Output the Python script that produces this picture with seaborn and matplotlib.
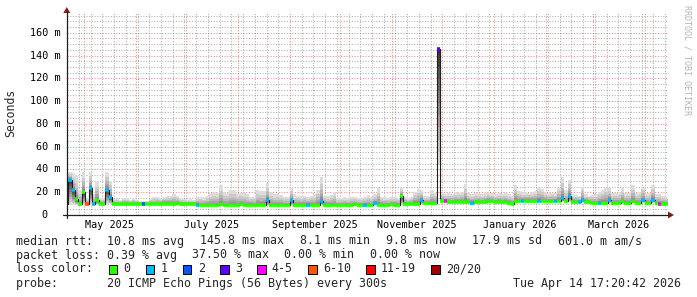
import numpy as np
import pandas as pd
import matplotlib
matplotlib.use("Agg")
import matplotlib.pyplot as plt
import matplotlib.dates as mdates
import matplotlib.transforms as mtransforms
import seaborn as sns
from matplotlib.collections import LineCollection
from matplotlib.lines import Line2D
from matplotlib.patches import Rectangle, Polygon

# ---------------- data (2-day bins) ----------------
series_start = "2025-04-19 17:20"
graph_end = "2026-04-14 17:20"

median_ms = [
    9.6, 31, 22, 14, 9.3, 20, 9.8, 24, 10, 13,
    9.7, 9.7, 22, 16, 9.8, 9.7, 9.7, 9.8, 9.7, 9.7,
    9.8, 9.7, 9.6, 9.6, 9.7, 9.8, 9.8, 9.7, 9.8, 9.9,
    9.8, 9.7, 9.8, 10.2, 9.8, 9.7, 9.6, 9.5, 9.4, 8.8,
    8.5, 8.5, 8.4, 8.5, 8.5, 8.6, 9.5, 8.6, 8.5, 8.6,
    8.5, 8.6, 9.3, 8.5, 8.5, 9.0, 8.6, 8.5, 8.6, 9.2,
    13, 8.6, 8.5, 8.6, 8.5, 8.5, 8.6, 13, 8.7, 8.6,
    8.5, 8.6, 8.7, 8.6, 8.6, 9.0, 12, 8.7, 8.6, 8.6,
    8.7, 8.6, 8.7, 8.6, 8.7, 8.6, 9.3, 8.7, 8.6, 8.6,
    8.7, 8.6, 10.2, 8.8, 8.7, 8.8, 8.9, 9.4, 9.0, 9.0,
    17, 9.8, 9.9, 9.8, 10.0, 9.9, 13, 10.1, 10.2, 10.1,
    10.3, 145.8, 12.5, 12.0, 11.2, 11.0, 11.0, 11.2, 11.5, 11.8,
    11.3, 10.5, 11.0, 11.2, 11.3, 11.5, 12.3, 12.0, 11.5, 11.3,
    11.2, 11.5, 10.5, 9.5, 12.2, 12.0, 12.0, 12.2, 12.3, 12.0,
    12.1, 12.5, 12.2, 12.0, 12.0, 12.1, 12.3, 12.5, 15, 12.0,
    17, 11.7, 11.7, 11.5, 13, 11.7, 11.6, 10.3, 10.2, 10.8,
    10.8, 10.8, 13.5, 10.6, 10.5, 10.5, 12, 10.5, 10.6, 12.5,
    10.8, 10.5, 13, 10.3, 10.2, 13.5, 10.2, 10.0, 9.6, 9.6,
]

smoke_max_ms = [
    12, 38, 37, 34, 22, 38, 14, 38, 18, 29,
    15, 15, 38, 30, 14, 14, 13.5, 14, 15, 13,
    14, 13, 12, 12, 12.5, 14, 15.5, 16, 15, 16,
    17, 16.5, 18, 17, 14.5, 14, 13.5, 14, 13.5, 16,
    16, 15.5, 17, 19, 20, 19, 26, 20, 19.5, 22,
    22, 19, 19, 19, 18.5, 16, 16, 22, 21, 21,
    28, 20, 18, 18.5, 17.5, 16, 16, 24, 18, 17,
    16.5, 17, 16, 17, 18, 22, 33, 17, 16.5, 17.5,
    20, 15, 15, 15.5, 15, 16, 15.5, 15, 15, 16,
    17.5, 16, 18, 24, 16, 15.5, 15, 16, 15.5, 15,
    24, 16, 15, 16, 20, 23, 22, 17, 16.5, 22,
    19, 146, 19, 18, 19, 18.5, 20, 19.5, 20, 27,
    19, 18, 19, 19, 18, 19, 19.5, 19, 18, 19,
    18.5, 19, 18, 17, 26, 21, 20, 20, 19.5, 20,
    21, 24, 23, 20, 19, 19.5, 19, 24, 33, 22,
    31, 18, 17.5, 17, 25, 18, 17, 17.5, 18, 20,
    22, 24, 24, 19, 19, 20, 24, 19, 19, 26,
    19, 20, 25, 19, 19, 26, 18, 18, 17, 16,
]

smoke_min_ms = [
    8.8, 9.0, 9.0, 9.0, 8.5, 9.0, 9.0, 9.0, 9.2, 9.3,
    8.9, 8.9, 9.5, 9.5, 9.0, 8.9, 8.9, 9.0, 8.9, 8.9,
    9.0, 8.9, 8.8, 8.8, 8.9, 9.0, 9.0, 8.9, 9.0, 9.1,
    9.0, 8.9, 9.0, 9.3, 9.0, 8.9, 8.8, 8.7, 8.6, 8.0,
    7.7, 7.7, 7.6, 7.7, 7.7, 7.8, 8.2, 7.8, 7.7, 7.8,
    7.7, 7.8, 8.0, 7.7, 7.7, 8.0, 7.8, 7.7, 7.8, 8.0,
    8.2, 7.8, 7.7, 7.8, 7.7, 7.7, 7.8, 8.3, 7.9, 7.8,
    7.7, 7.8, 7.9, 7.8, 7.8, 8.1, 8.5, 7.9, 7.8, 7.8,
    7.9, 7.8, 7.9, 7.8, 7.9, 7.8, 8.2, 7.9, 7.8, 7.8,
    7.9, 7.8, 8.6, 8.0, 7.9, 8.0, 8.1, 8.4, 8.2, 8.2,
    8.5, 9.0, 9.1, 9.0, 9.2, 9.1, 9.5, 9.3, 9.4, 9.3,
    9.5, 45, 11.0, 11.0, 10.4, 10.2, 10.2, 10.4, 10.7, 11.0,
    10.5, 9.7, 10.2, 10.4, 10.5, 10.7, 11.3, 11.2, 10.7, 10.5,
    10.4, 10.7, 9.7, 8.7, 11.0, 11.2, 11.2, 11.4, 11.5, 11.2,
    11.3, 11.5, 11.4, 11.2, 11.2, 11.3, 11.5, 11.6, 11.5, 11.2,
    11.5, 10.9, 10.9, 10.7, 11.5, 10.9, 10.8, 9.5, 9.4, 10.0,
    10.0, 10.0, 10.5, 9.8, 9.7, 9.7, 10.3, 9.7, 9.8, 10.5,
    10.0, 9.7, 10.5, 9.5, 9.4, 10.5, 9.4, 9.2, 8.8, 8.8,
]

lost_pings = [
    0, 1, 1, 0, 0, 0, 7, 1, 1, 0,
    0, 0, 1, 1, 0, 0, 0, 0, 0, 0,
    0, 0, 0, 2, 0, 0, 0, 0, 0, 0,
    0, 0, 0, 0, 0, 0, 0, 0, 0, 1,
    0, 0, 0, 0, 0, 0, 0, 0, 0, 0,
    0, 0, 0, 0, 0, 0, 0, 0, 0, 0,
    1, 0, 0, 0, 0, 0, 0, 1, 0, 0,
    0, 0, 1, 0, 0, 0, 1, 0, 0, 0,
    0, 0, 0, 0, 0, 0, 0, 0, 0, 1,
    0, 0, 1, 0, 0, 0, 0, 0, 0, 0,
    0, 0, 0, 0, 0, 0, 1, 0, 0, 0,
    0, 3, 0, 4, 0, 0, 0, 0, 0, 0,
    0, 1, 0, 0, 0, 0, 0, 0, 0, 0,
    0, 0, 0, 0, 0, 0, 1, 0, 0, 0,
    0, 1, 0, 0, 0, 0, 1, 0, 1, 0,
    1, 0, 0, 1, 1, 0, 0, 0, 0, 1,
    0, 0, 1, 0, 0, 0, 0, 0, 0, 0,
    0, 0, 1, 0, 0, 1, 0, 4, 0, 0,
]

loss_labels = ["0", "1", "2", "3", "4-5", "6-10", "11-19", "20/20"]
loss_upper = [0, 1, 2, 3, 5, 10, 19, 20]
loss_colors = ["#26ff00", "#00b8ff", "#0059ff", "#5e00ff",
               "#ff00ff", "#ff5500", "#ff0000", "#a10000"]

y_ticks = [0, 20, 40, 60, 80, 100, 120, 140, 160]
y_tick_labels = ["0", "20 m", "40 m", "60 m", "80 m", "100 m", "120 m", "140 m", "160 m"]
x_label_months = ["2025-05-01", "2025-07-01", "2025-09-01", "2025-11-01", "2026-01-01", "2026-03-01"]

legend_row_rtt = ["median rtt:  10.8 ms avg", "145.8 ms max", "8.1 ms min",
                  "9.8 ms now", "17.9 ms sd", "601.0 m am/s"]
legend_row_loss = ["packet loss: 0.39 % avg", "37.50 % max", "0.00 % min", "0.00 % now"]
legend_row_color = "loss color:"
legend_row_probe = "probe:       20 ICMP Echo Pings (56 Bytes) every 300s"
timestamp_text = "Tue Apr 14 17:20:42 2026"

# ---------------- figure ----------------
sns.set_theme(style="white")
plt.rcParams["font.family"] = ["DejaVu Sans Mono", "DejaVu Sans"]

W, H = 697, 297
fig = plt.figure(figsize=(W / 100, H / 100), dpi=100)
fig.patch.set_facecolor("white")
L, R, B, T = 66.5, 668.0, 215.0, 12.3
ax = fig.add_axes([L / W, 1 - B / H, (R - L) / W, (B - T) / H])
ax.set_facecolor("white")

def fx(px):
    return px / W

def fy(py):
    return 1 - py / H

med = np.array(median_ms, float)
hi = np.array(smoke_max_ms, float)
lo = np.array(smoke_min_ms, float)
loss = np.array(lost_pings)
n = len(med)
edges = pd.date_range(series_start, periods=n + 1, freq="2D")
xe = mdates.date2num(edges.to_pydatetime())

def ext(a):
    return np.append(a, a[-1])

# grid
mgrid = (0.87, 0.31, 0.31, 0.65)
ngrid = (0.56, 0.56, 0.56, 0.7)
x0 = pd.Timestamp(series_start) + pd.Timedelta(days=(L - 65.1) / 1.6746)
x1 = pd.Timestamp(graph_end)
ax.set_xlim(x0, x1)
ymax = (B - T) / 1.139
ax.set_ylim(0, ymax)
dot = (0, (1, 1.6))
weeks = pd.date_range(x0.normalize(), x1, freq="W-MON")
months = pd.date_range(x0.normalize(), x1, freq="MS")
for t in weeks:
    if t not in months:
        ax.axvline(t, color=ngrid, lw=0.75, ls=dot, zorder=1)
for v in np.arange(5, ymax, 5):
    if v % 20:
        ax.axhline(v, color=ngrid, lw=0.75, ls=dot, zorder=1)
for t in months:
    ax.axvline(t, color=mgrid, lw=0.75, ls=dot, zorder=1)
for v in y_ticks[1:]:
    ax.axhline(v, color=mgrid, lw=0.75, ls=dot, zorder=1)

# smoke: 20 sorted pseudo pings per bin, nested gray bands
u = (np.arange(20) - 9.5) / 9.5
pings = np.where(u[:, None] > 0,
                 med[None, :] + (hi - med)[None, :] * (u[:, None] ** 3),
                 med[None, :] + (med - lo)[None, :] * u[:, None])
for j in range(10):
    g = int(190 / 10 * (10 - (j + 1)) + 50) / 255.0
    ax.fill_between(xe, ext(pings[j]), ext(pings[19 - j]), step="post",
                    color=(g, g, g), lw=0, zorder=2)

# median line (black step)
df = pd.DataFrame({"t": edges, "median": ext(med)})
sns.lineplot(data=df, x="t", y="median", drawstyle="steps-post", color="#202020",
             lw=0.8, ax=ax, zorder=4, estimator=None, sort=False)

# loss-coloured median band
def loss_color(k):
    for up, c in zip(loss_upper, loss_colors):
        if k <= up:
            return c
    return loss_colors[-1]

segs = [[(xe[i], med[i]), (xe[i + 1], med[i])] for i in range(n)]
lc = LineCollection(segs, colors=[loss_color(k) for k in loss], linewidths=2.6,
                    capstyle="butt", zorder=5)
ax.add_collection(lc)

ax.grid(False)
ax.tick_params(which="both", length=0, labelbottom=False, labelleft=False)
ax.set_xlabel("")
ax.set_ylabel("")
for s in ax.spines.values():
    s.set_visible(False)

# axis lines + arrows
axis_col = (0.12, 0.12, 0.12)
arrow_col = (0.5, 0.12, 0.12)
fig.add_artist(Line2D([fx(63), fx(669)], [fy(215), fy(215)], color=axis_col, lw=0.9))
fig.add_artist(Line2D([fx(66.8), fx(66.8)], [fy(218), fy(12)], color=axis_col, lw=0.9))
fig.add_artist(Polygon([(fx(668), fy(211.5)), (fx(668), fy(218.5)), (fx(674), fy(215))],
                       closed=True, color=arrow_col, lw=0))
fig.add_artist(Polygon([(fx(63.3), fy(13)), (fx(70.3), fy(13)), (fx(66.8), fy(7))],
                       closed=True, color=arrow_col, lw=0))

# y tick labels
ytr = mtransforms.blended_transform_factory(fig.transFigure, ax.transData)
for v, lab in zip(y_ticks, y_tick_labels):
    xr = 47.3 if lab == "0" else 60.3
    ax.text(fx(xr), v, lab, transform=ytr, ha="right", va="center", size=7.3,
            color="black", clip_on=False)

# x labels (centred half a month after the month start)
xtr = mtransforms.blended_transform_factory(ax.transData, fig.transFigure)
for m in x_label_months:
    t = pd.Timestamp(m)
    lab = t.strftime("%B %Y")
    ax.text(mdates.date2num(t + pd.Timedelta(days=15)), fy(225), lab, transform=xtr,
            ha="center", va="center", size=7.3, color="black", clip_on=False)

fig.text(fx(11), fy(113), "Seconds", rotation=90, ha="center", va="center", size=8.3)
fig.text(fx(686.5), fy(5), "RRDTOOL / TOBI OETIKER", rotation=270, ha="center",
         va="top", size=6.0, color="#b4b4b4")

# legend (items placed like rrdtool: fixed char width, fixed gap between items)
FS = 8.4
CW = 6.98
rows_y = [241, 255, 269, 283]

def place_row(items, yy, gap):
    xcur = 16.0
    for it in items:
        fig.text(fx(xcur), fy(yy), it, ha="left", va="center", size=FS)
        xcur += len(it) * CW + gap

place_row(legend_row_rtt, rows_y[0], 16.3)
place_row(legend_row_loss, rows_y[1], 15.5)
fig.text(fx(16), fy(rows_y[2]), legend_row_color, ha="left", va="center", size=FS)
fig.text(fx(16), fy(rows_y[3]), legend_row_probe, ha="left", va="center", size=FS)
fig.text(fx(681), fy(rows_y[3]), timestamp_text, ha="right", va="center", size=FS)

xcur = 108.8
for lab, col in zip(loss_labels, loss_colors):
    fig.add_artist(Rectangle((fx(xcur), fy(273.5)), 8.5 / W, 8.5 / H, facecolor=col,
                             edgecolor="black", lw=0.7))
    fig.text(fx(xcur + 14.8), fy(rows_y[2]), lab, ha="left", va="center", size=FS)
    xcur += 14.8 + len(lab) * CW + 15.3

fig.savefig("out.png", dpi=100, facecolor="white")
